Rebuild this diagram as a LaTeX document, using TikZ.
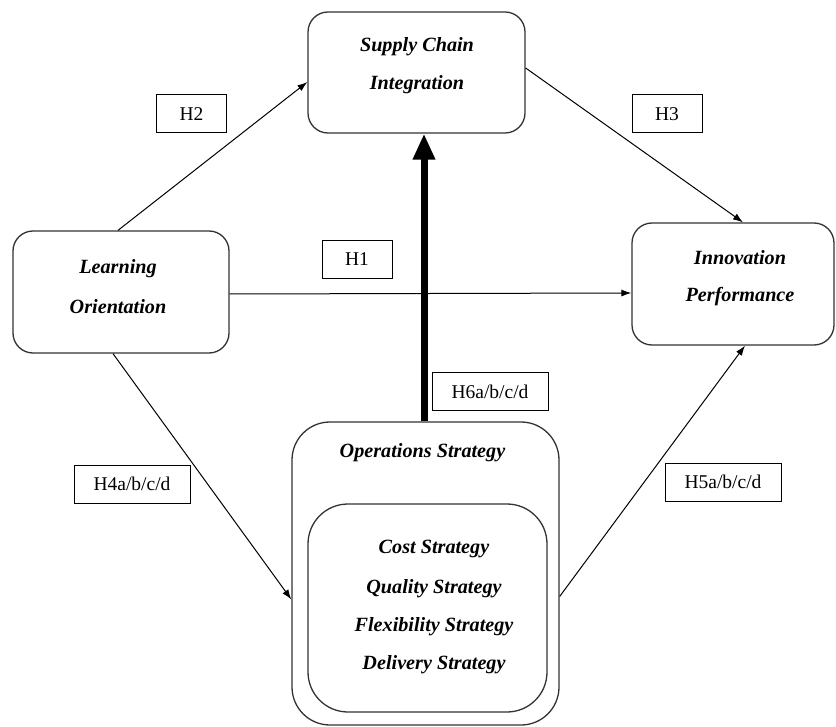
\documentclass[tikz,border=0pt]{standalone}
\usepackage{fontspec}
\setmainfont{Liberation Serif}
\usetikzlibrary{arrows.meta}
\tikzset{
  concept/.style={draw=black!80, line width=1.3pt, rounded corners=20pt, inner sep=0pt},
  outerbox/.style={draw=black!80, line width=1.3pt, rounded corners=38pt, inner sep=0pt},
  innerbox/.style={draw=black!80, line width=1.3pt, rounded corners=40pt, inner sep=0pt},
  ctext/.style={font=\fontsize{20.2}{38}\selectfont\bfseries\itshape, align=center, inner sep=0pt},
  hyp/.style={draw=black, line width=1pt, fill=white, minimum width=70pt, minimum height=38pt, inner sep=0pt, font=\fontsize{19.5}{22}\selectfont},
  hypwide/.style={hyp, minimum width=116pt},
  link/.style={line width=1pt, -{Latex[length=10pt,width=7pt]}},
  thicklink/.style={line width=7pt, -{Triangle[length=26pt,width=21pt]}}
}
\begin{document}
\begin{tikzpicture}[x=1pt,y=-1pt]
\useasboundingbox (0,0) rectangle (836,727);
% main boxes
\node[concept, minimum width=217pt, minimum height=121pt] (sci) at (416.5,72.5) {};
\node[concept, minimum width=216pt, minimum height=122pt] (lo) at (121,292) {};
\node[concept, minimum width=202pt, minimum height=122pt] (ip) at (733,284) {};
\node[outerbox, minimum width=267pt, minimum height=303pt] (ops) at (425.5,573.5) {};
\node[innerbox, minimum width=239pt, minimum height=208pt] (opsin) at (427.5,608) {};
% texts
\node[ctext] (scit1) at (417,47) {Supply Chain};
\node[ctext] (scit2) at (417,85) {Integration};
\node[ctext] (lot1) at (118,269) {Learning};
\node[ctext] (lot2) at (118,307) {Orientation};
\node[ctext] (ipt1) at (740,258) {Innovation};
\node[ctext] (ipt2) at (740,297) {Performance};
\node[ctext] (opst) at (422.5,453) {Operations Strategy};
\node[ctext] (os1) at (434,549) {Cost Strategy};
\node[ctext] (os2) at (434,589) {Quality Strategy};
\node[ctext] (os3) at (434,627) {Flexibility Strategy};
\node[ctext] (os4) at (434,665) {Delivery Strategy};
% connectors
\draw[link] ([xshift=-3pt]lo.north) -- ([yshift=-9.5pt]sci.west);
\draw[link] ([yshift=4.5pt]sci.east) -- ([xshift=10pt]ip.north);
\draw[link] ([yshift=-2pt]lo.east) -- ([yshift=-9pt]ip.west);
\draw[link] ([xshift=-8pt]lo.south) -- ([yshift=-26pt]ops.west);
\draw[link] ([yshift=-23pt]ops.east) -- ([xshift=12pt]ip.south);
\draw[thicklink] ([xshift=-1.5pt]ops.north) -- ([xshift=7.5pt]sci.south);
% hypothesis labels
\node[hyp] (h2) at (191.5,114) {H2};
\node[hyp] (h3) at (667,114) {H3};
\node[hyp] (h1) at (357,259.5) {H1};
\node[hypwide] (h6) at (490,392) {H6a/b/c/d};
\node[hypwide] (h4) at (132,484) {H4a/b/c/d};
\node[hypwide] (h5) at (723,482) {H5a/b/c/d};
\end{tikzpicture}
\end{document}
